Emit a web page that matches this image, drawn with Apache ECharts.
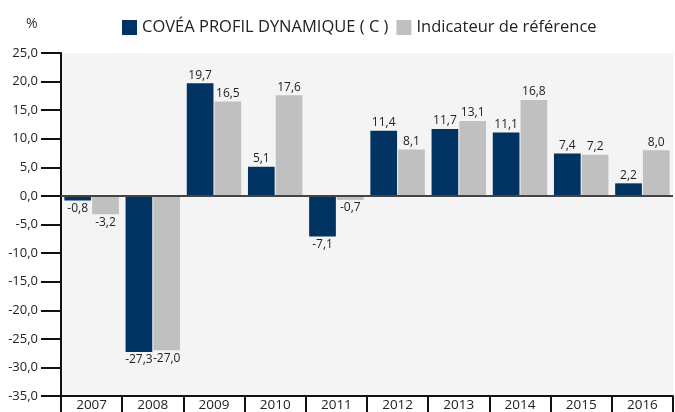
<!DOCTYPE html>
<html lang="fr">
<head>
    <meta charset="UTF-8">
    <title>COVÉA PROFIL DYNAMIQUE</title>
    <style>
        body { margin: 0; padding: 0; background: #fff; }
        #chart { width: 675px; height: 412px; }
    </style>
</head>
<body>
    <div id="chart"></div>
    <script src="https://cdn.jsdelivr.net/npm/echarts@6/dist/echarts.min.js"></script>
    <script>
        var years = ['2007', '2008', '2009', '2010', '2011', '2012', '2013', '2014', '2015', '2016'];
        var fonds = [-0.8, -27.3, 19.7, 5.1, -7.1, 11.4, 11.7, 11.1, 7.4, 2.2];
        var indicateur = [-3.2, -27.0, 16.5, 17.6, -0.7, 8.1, 13.1, 16.8, 7.2, 8.0];

        var fmt = function (v) { return v.toFixed(1).replace('.', ','); };
        var font = '"Open Sans", "Noto Sans", sans-serif';

        var chart = echarts.init(document.getElementById('chart'));
        var option = {
            animation: false,
            textStyle: { fontFamily: font },
            title: {
                text: '%',
                left: 21,
                top: 12,
                textStyle: { fontSize: 14, fontWeight: 'normal', color: '#333', fontFamily: font }
            },
            legend: {
                top: 14,
                left: 117,
                itemWidth: 15,
                itemHeight: 15,
                itemGap: 8,
                icon: 'rect',
                textStyle: { fontSize: 16.5, color: '#222', fontFamily: font },
                data: ['COVÉA PROFIL DYNAMIQUE ( C )', 'Indicateur de référence']
            },
            grid: {
                left: 61, right: 2, top: 53, bottom: 14,
                show: true, backgroundColor: '#f4f4f4', borderWidth: 0
            },
            xAxis: {
                type: 'category',
                data: years,
                boundaryGap: true,
                axisLine: { show: true, onZero: false, lineStyle: { color: '#111', width: 2 } },
                axisTick: { show: true, interval: 0, alignWithLabel: false, length: 16, lineStyle: { color: '#111', width: 2 } },
                axisLabel: { color: '#222', fontSize: 13.5, margin: 2, interval: 0, fontFamily: font }
            },
            yAxis: {
                type: 'value',
                min: -35, max: 25, interval: 5,
                axisLine: { show: true, lineStyle: { color: '#111', width: 2 } },
                axisTick: { show: true, length: 20, lineStyle: { color: '#111', width: 2 } },
                splitLine: { show: false },
                axisLabel: { color: '#222', fontSize: 13, margin: 23, formatter: fmt, fontFamily: font }
            },
            series: [
                {
                    name: 'COVÉA PROFIL DYNAMIQUE ( C )',
                    type: 'bar',
                    data: fonds,
                    itemStyle: { color: '#003262' },
                    barGap: '4%',
                    barCategoryGap: '11%',
                    label: {
                        show: true,
                        position: 'outside',
                        distance: 2,
                        color: '#222',
                        fontSize: 12,
                        fontFamily: font,
                        formatter: function (p) { return fmt(p.value); }
                    },
                    markLine: {
                        silent: true,
                        symbol: 'none',
                        label: { show: false },
                        lineStyle: { color: '#444', width: 2, type: 'solid' },
                        data: [{ yAxis: 0 }]
                    }
                },
                {
                    name: 'Indicateur de référence',
                    type: 'bar',
                    data: indicateur,
                    itemStyle: { color: '#c0c0c0' },
                    label: {
                        show: true,
                        position: 'outside',
                        distance: 2,
                        color: '#222',
                        fontSize: 12,
                        fontFamily: font,
                        formatter: function (p) { return fmt(p.value); }
                    }
                }
            ]
        };
        chart.setOption(option);
    </script>
</body>
</html>
